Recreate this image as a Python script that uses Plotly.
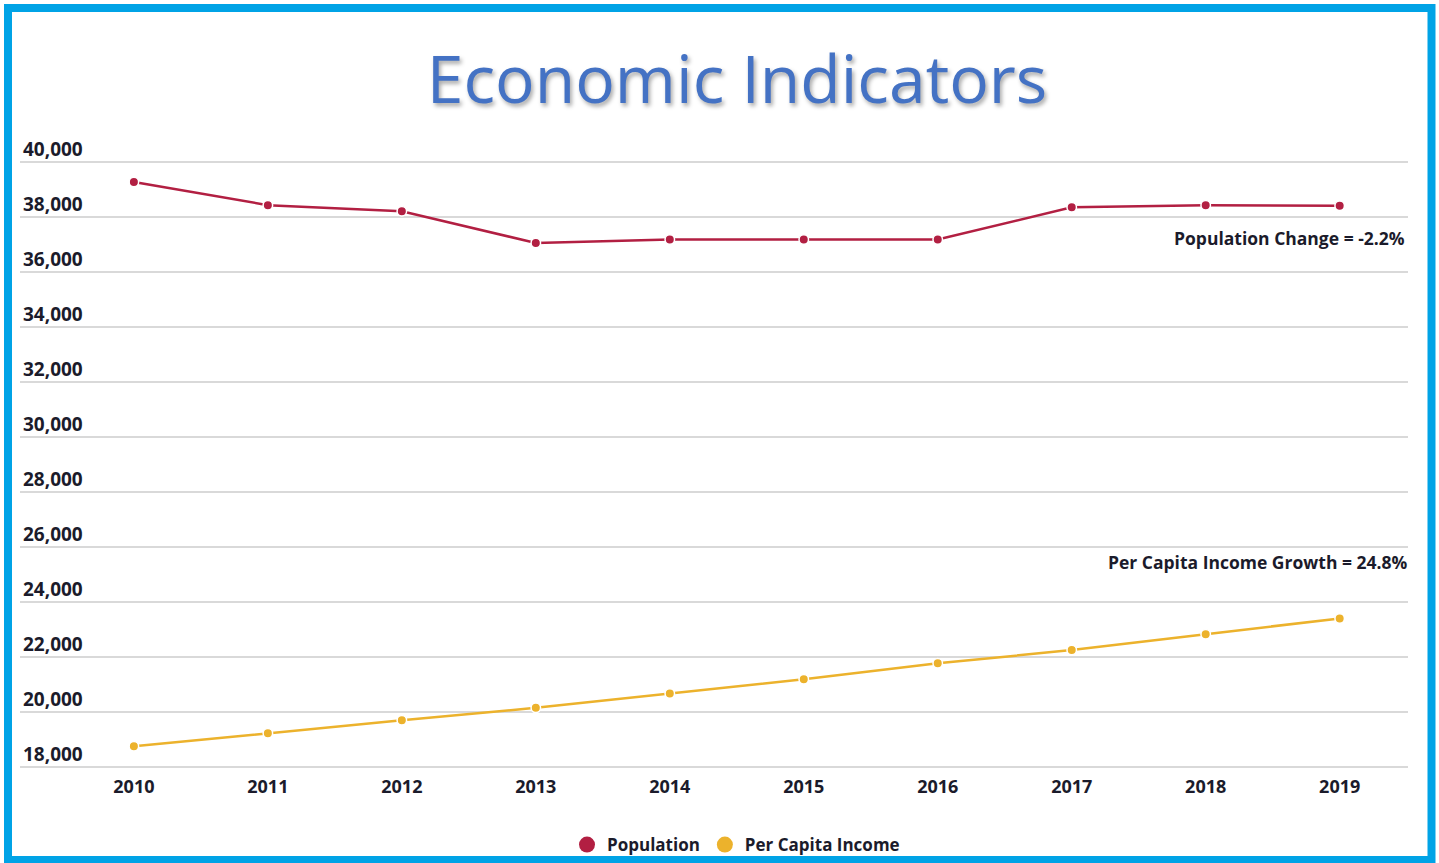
import plotly.graph_objects as go

# Annual series
years = ["2010", "2011", "2012", "2013", "2014", "2015", "2016", "2017", "2018", "2019"]
population = [39280, 38440, 38220, 37065, 37190, 37190, 37190, 38360, 38440, 38420]
per_capita_income = [18760, 19240, 19710, 20160, 20680, 21200, 21780, 22260, 22840, 23410]

pop_change = (population[-1] / population[0] - 1) * 100
income_growth = (per_capita_income[-1] / per_capita_income[0] - 1) * 100

POP_COLOR = "#B21F42"
INC_COLOR = "#ECB22C"
TEXT_COLOR = "#1b1b2b"
FONT = "Open Sans"

W, H = 1439, 863
ML, MR, MT, MB = 20, 31, 121, 93
PW, PH = W - ML - MR, H - MT - MB


def px_x(px):
    return (px - ML) / PW


def px_y(py):
    return (H - MB - py) / PH


fig = go.Figure()

for name, vals, color in [("Population", population, POP_COLOR),
                          ("Per Capita Income", per_capita_income, INC_COLOR)]:
    fig.add_trace(go.Scatter(
        x=years, y=vals, mode="lines+markers", name=name, showlegend=False,
        line=dict(color=color, width=2.5),
        marker=dict(size=9.5, color=color, line=dict(color="white", width=1.5)),
    ))
    # legend swatch: plain dot
    fig.add_trace(go.Scatter(
        x=[None], y=[None], mode="markers", name=name,
        marker=dict(size=16, color=color),
    ))

fig.add_annotation(
    xref="paper", yref="y", x=px_x(1407), y=37240, xanchor="right", yanchor="middle",
    text=f"<b>Population Change = {pop_change:.1f}%</b>", showarrow=False,
    font=dict(family=FONT, size=17.5, color=TEXT_COLOR),
)
fig.add_annotation(
    xref="paper", yref="y", x=px_x(1410), y=25455, xanchor="right", yanchor="middle",
    text=f"<b>Per Capita Income Growth = {income_growth:.1f}%</b>", showarrow=False,
    font=dict(family=FONT, size=17.5, color=TEXT_COLOR),
)

# outer frame
fig.add_shape(
    type="rect", xref="paper", yref="paper",
    x0=px_x(8), x1=px_x(1431.5), y0=px_y(860), y1=px_y(8),
    line=dict(color="#00A3E6", width=8), fillcolor="rgba(0,0,0,0)", layer="above",
)

fig.update_layout(
    width=W, height=H,
    margin=dict(l=ML, r=MR, t=MT, b=MB, autoexpand=False),
    paper_bgcolor="white", plot_bgcolor="white",
    title=dict(
        text="Economic Indicators",
        x=737 / W, xanchor="center", xref="container",
        y=1 - 80 / H, yanchor="middle", yref="container",
        font=dict(family=FONT, size=66, color="#4472C4",
                  shadow="2px 3px 4px rgba(0,0,0,0.35)"),
    ),
    legend=dict(
        orientation="h", x=px_x(736), y=px_y(845), xanchor="center", yanchor="middle",
        font=dict(family=FONT, size=17, color=TEXT_COLOR, weight="bold"),
        itemwidth=30, bgcolor="rgba(0,0,0,0)",
    ),
    xaxis=dict(
        type="category", range=[-0.85, 9.51],
        showgrid=False, showline=False, zeroline=False, ticks="",
        ticklabelstandoff=4,
        tickfont=dict(family=FONT, size=18, color=TEXT_COLOR, weight="bold"),
    ),
    yaxis=dict(
        range=[17900, 41500], tickformat=",",
        tickvals=list(range(18000, 40001, 2000)),
        ticklabelposition="inside top",
        showgrid=True, gridcolor="#d9d9d9", gridwidth=2,
        showline=False, zeroline=False, ticks="",
        tickfont=dict(family=FONT, size=19, color=TEXT_COLOR, weight="bold"),
    ),
    hovermode=False,
)

fig.write_html("out.html")
